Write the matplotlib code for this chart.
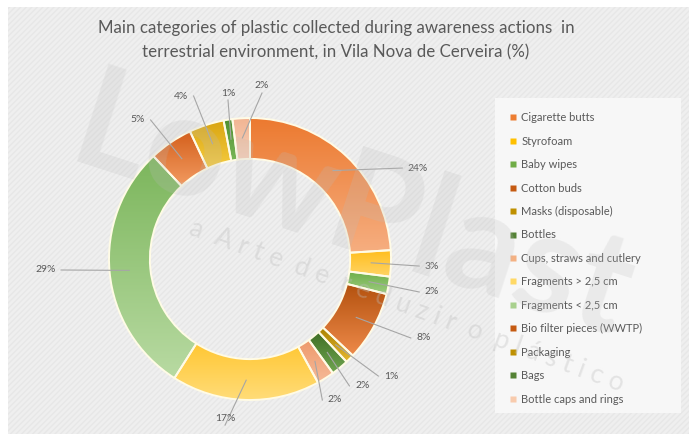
import numpy as np
import matplotlib
matplotlib.use("Agg")
import matplotlib.pyplot as plt
from matplotlib.patches import Rectangle, Wedge
from matplotlib.lines import Line2D
from matplotlib.colors import to_rgb

# ---------------- data ----------------
categories = ["Cigarette butts", "Styrofoam", "Baby wipes", "Cotton buds",
              "Masks (disposable)", "Bottles", "Cups, straws and cutlery",
              "Fragments > 2,5 cm", "Fragments < 2,5 cm",
              "Bio filter pieces (WWTP)", "Packaging", "Bags",
              "Bottle caps and rings"]
values = [24, 3, 2, 8, 1, 2, 2, 17, 29, 5, 4, 1, 2]
labels = [f"{v}%" for v in values]

# gradient colours (top, bottom) per slice and legend colours
top_colors = ["#EC7A30", "#FFBE1E", "#6FAF4A", "#B4520F", "#A88000", "#3F6E25",
              "#EE9A6C", "#FFC733", "#7CB65C", "#D4601C", "#D9A510", "#4F8F30",
              "#F2B593"]
bot_colors = ["#F6AE80", "#FFD466", "#9CCB7E", "#EE8A4A", "#E6B830", "#6FA550",
              "#F6BA98", "#FFDC78", "#B8DAA2", "#F29A60", "#F5CB40", "#7AB858",
              "#F8D0B8"]
legend_colors = ["#ED7D31", "#FFC000", "#70AD47", "#C55A11", "#BF9000", "#548235",
                 "#F4B183", "#FFD966", "#A9D18E", "#C55A11", "#BF9000", "#548235",
                 "#F8CBAD"]

# label text positions (layout, in units of the outer radius)
label_pos = [(1.12, 0.645), (1.24, -0.05), (1.24, -0.234), (1.18, -0.56),
             (0.95, -0.83), (0.745, -0.90), (0.553, -1.0), (-0.177, -1.128),
             (-1.38, -0.078), (-0.745, 0.986), (-0.44, 1.156), (-0.156, 1.177),
             (0.085, 1.227)]

W, H = 689, 434
FONT = ["Lato", "DejaVu Sans"]
plt.rcParams["font.family"] = FONT
fig = plt.figure(figsize=(W / 100, H / 100), dpi=100)
fig.patch.set_facecolor("white")

# background panel
bg = fig.add_axes([0, 0, 1, 1])
bg.set_xlim(0, W); bg.set_ylim(H, 0); bg.axis("off")
bg.add_patch(Rectangle((8, 7), W - 8, H - 7, facecolor="#EFEFEF",
                       edgecolor="none", zorder=0))
bg.add_patch(Rectangle((8, 7), W - 8, H - 7, facecolor="none",
                       edgecolor="#E7E7E7", hatch="//////", lw=0, zorder=0.5))
# legend panel
bg.add_patch(Rectangle((495, 98), 186, 315, facecolor="#F7F7F7",
                       edgecolor="none", zorder=1))

# donut axes: 1 unit = 141 px, centre at (250, 259)
cx, cy, R = 250, 259, 141
ax = fig.add_axes([0, 0, 1, 1])
ax.patch.set_alpha(0)

wedges, _ = ax.pie(values, colors=top_colors, startangle=90, counterclock=False,
                   radius=1.0, center=(0, 0), frame=True,
                   wedgeprops=dict(width=0.29, edgecolor="none", linewidth=0))

for w, ct, cb in zip(wedges, top_colors, bot_colors):
    t = np.deg2rad(np.linspace(w.theta1, w.theta2, 100))
    rr = np.concatenate([np.full(100, 1.0), np.full(100, 0.71)])
    tt = np.concatenate([t, t[::-1]])
    xs, ys = rr * np.cos(tt), rr * np.sin(tt)
    a = np.linspace(0, 1, 64)[:, None]
    img = (1 - a) * np.array(to_rgb(ct)) + a * np.array(to_rgb(cb))
    img = img[:, None, :]
    im = ax.imshow(img, extent=(xs.min(), xs.max(), ys.min(), ys.max()),
                   origin="upper", aspect="auto", interpolation="bilinear", zorder=2)
    im.set_clip_path(w)
    edge = Wedge(w.center, w.r, w.theta1, w.theta2, width=w.width,
                 facecolor="none", edgecolor="#FFFBE6", linewidth=1.4, zorder=3)
    ax.add_patch(edge)

ax.set_xlim(-cx / R, (W - cx) / R)
ax.set_ylim(-(H - cy) / R, cy / R)
ax.set_aspect("auto")
ax.axis("off")

txtc = "#595959"
for w, lab, (tx, ty) in zip(wedges, labels, label_pos):
    ang = np.deg2rad((w.theta1 + w.theta2) / 2)
    ax_, ay_ = 0.86 * np.cos(ang), 0.86 * np.sin(ang)
    ha = "left" if tx > 0.3 else ("right" if tx < -0.3 else "center")
    ex = tx - 0.04 if ha == "left" else (tx + 0.04 if ha == "right" else tx)
    ey = ty if ha != "center" else ty - 0.05
    ax.plot([ax_, ex], [ay_, ey], color="#A6A6A6", lw=0.8, zorder=5)
    ax.text(tx, ty, lab, ha=ha, va="center", fontsize=7.5, color=txtc, zorder=6,
            family=FONT)

# title
fig.text(336 / W, 1 - 28 / H, "Main categories of plastic collected during awareness actions  in",
         ha="center", va="center", fontsize=12.2, color=txtc, family=FONT)
fig.text(336 / W, 1 - 52 / H, "terrestrial environment, in Vila Nova de Cerveira (%)",
         ha="center", va="center", fontsize=12.2, color=txtc, family=FONT)

# legend
handles = [Line2D([], [], marker="s", ls="none", markersize=4.2,
                  markerfacecolor=c, markeredgecolor="none") for c in legend_colors]
leg = fig.legend(handles, categories, loc="upper left",
                 bbox_to_anchor=(497 / W, 1 - 100 / H), frameon=False,
                 labelspacing=1.12, handlelength=0.6,
                 handletextpad=0.5, borderpad=0.6, labelcolor=txtc,
                 prop=dict(family=FONT, size=8))

# watermark overlay
fig.text(352 / W, 1 - 212 / H, "LowPlast", rotation=-18, ha="center", va="center",
         fontsize=102, fontweight="bold", color="#BDBDBD", alpha=0.22,
         family=FONT, zorder=20)
fig.text(407 / W, 1 - 306 / H, "a  A r t e  d e  r e d u z i r  o  p l á s t i c o",
         rotation=-20, ha="center", va="center", fontsize=19, color="#BDBDBD",
         alpha=0.35, family=FONT, zorder=20)

fig.savefig("out.png", dpi=100, facecolor=fig.get_facecolor())
